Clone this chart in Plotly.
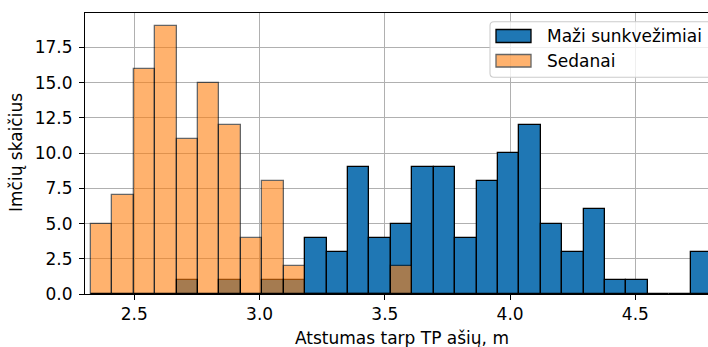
import plotly.graph_objects as go

# Histogram bins shared by both vehicle groups (axle distance, m)
bin_start = 2.327
bin_width = 0.0855

# Counts per bin
trucks_counts = [0, 0, 0, 0, 1, 0, 1, 0, 1, 1, 4, 3, 9, 4, 5, 9, 9, 4, 8, 10,
                 12, 5, 3, 6, 1, 1, 0, 0, 3]
sedans_counts = [5, 7, 16, 19, 11, 15, 12, 4, 8, 2, 0, 0, 0, 0, 2]

series_names = ["Maži sunkvežimiai", "Sedanai"]
x_ticks = [2.5, 3.0, 3.5, 4.0, 4.5]
y_ticks = [0, 2.5, 5, 7.5, 10, 12.5, 15, 17.5]

x_title = "Atstumas tarp TP ašių, m"
y_title = "Imčių skaičius"

BLUE = "#1f77b4"
ORANGE = "#ff7f0e"
FONT = "DejaVu Sans"

W, H = 708, 347
ML, MT, MB, MR = 85, 13, 53, 0
PW = W - ML - MR
PH = H - MT - MB


def px(xp):
    return (xp - ML) / PW


def py(yp):
    return (H - MB - yp) / PH


def centers(counts):
    return [bin_start + (i + 0.5) * bin_width for i in range(len(counts))]


fig = go.Figure()
fig.add_trace(go.Bar(
    x=centers(trucks_counts), y=trucks_counts, width=bin_width,
    name=series_names[0],
    marker=dict(color=BLUE, line=dict(color="black", width=1.3)),
))
fig.add_trace(go.Bar(
    x=centers(sedans_counts), y=sedans_counts, width=bin_width,
    name=series_names[1],
    marker=dict(color=ORANGE, opacity=0.6,
                line=dict(color="black", width=1.3)),
))

axis_common = dict(
    showgrid=True, gridcolor="#b0b0b0", gridwidth=1.1,
    zeroline=False, showline=True, linecolor="black", linewidth=1.1,
    ticks="outside", ticklen=5, tickwidth=1.1, tickcolor="black",
    tickfont=dict(family=FONT, size=17, color="black"),
)

fig.update_xaxes(range=[2.3031, 4.7901], tickvals=x_ticks,
                 ticktext=[f"{v:.1f}" for v in x_ticks], mirror=True,
                 **axis_common)
fig.update_yaxes(range=[0, 19.95], tickvals=y_ticks,
                 ticktext=[f"{v:.1f}" for v in y_ticks], mirror=False,
                 ticklabelstandoff=3, **axis_common)

# Legend frame and entries
shapes = [
    dict(type="path", xref="paper", yref="paper",
         path=(f"M {px(494)} {py(21.7)} L {px(730)} {py(21.7)} "
               f"L {px(730)} {py(77.3)} L {px(494)} {py(77.3)} "
               f"Q {px(490)} {py(77.3)} {px(490)} {py(73.3)} "
               f"L {px(490)} {py(25.7)} "
               f"Q {px(490)} {py(21.7)} {px(494)} {py(21.7)} Z"),
         fillcolor="rgba(255,255,255,0.8)",
         line=dict(color="#cccccc", width=1.1)),
    dict(type="rect", xref="paper", yref="paper",
         x0=px(496), x1=px(531), y0=py(29.5), y1=py(42.5),
         fillcolor=BLUE, line=dict(color="black", width=1.3)),
    dict(type="rect", xref="paper", yref="paper",
         x0=px(496), x1=px(531), y0=py(54.5), y1=py(67),
         fillcolor=ORANGE, opacity=0.6, line=dict(color="black", width=1.3)),
]

annotations = [
    dict(text=series_names[0], xref="paper", yref="paper",
         x=px(545), y=py(36), xanchor="left", yanchor="middle",
         showarrow=False, font=dict(family=FONT, size=17, color="black")),
    dict(text=series_names[1], xref="paper", yref="paper",
         x=px(545), y=py(61), xanchor="left", yanchor="middle",
         showarrow=False, font=dict(family=FONT, size=17, color="black")),
    dict(text=x_title, xref="paper", yref="paper",
         x=px(401.5), y=py(338), xanchor="center", yanchor="middle",
         showarrow=False, font=dict(family=FONT, size=17, color="black")),
    dict(text=y_title, xref="paper", yref="paper",
         x=px(16), y=py(153), xanchor="center", yanchor="middle",
         textangle=-90, showarrow=False,
         font=dict(family=FONT, size=17, color="black")),
]

fig.update_layout(
    width=W, height=H,
    margin=dict(l=ML, r=MR, t=MT, b=MB, pad=0),
    barmode="overlay", bargap=0,
    showlegend=False,
    plot_bgcolor="white", paper_bgcolor="white",
    font=dict(family=FONT, size=17, color="black"),
    shapes=shapes, annotations=annotations,
)

fig.write_html("out.html")
